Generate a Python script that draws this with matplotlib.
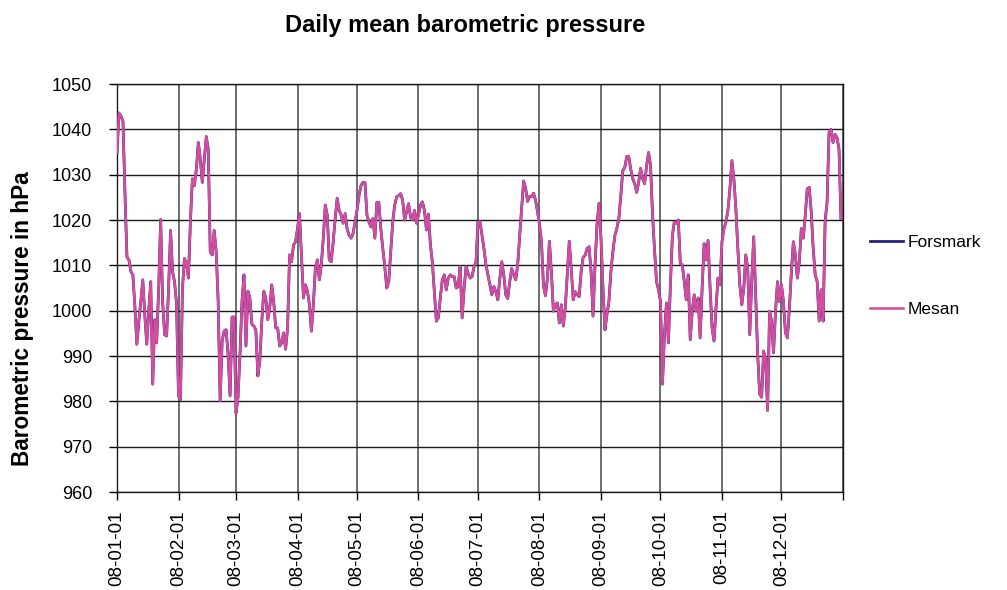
#!/usr/bin/env python3
"""Daily mean barometric pressure 2008, Forsmark vs Mesan."""
from __future__ import annotations

import matplotlib
matplotlib.use("Agg")
import matplotlib.pyplot as plt
import pandas as pd

plt.rcParams["font.family"] = ["Liberation Sans", "DejaVu Sans"]

# Mesan daily means (hPa), 2008-01-01 onwards
mesan_jan_feb = [
    1034.9, 1043.6, 1042.9, 1041.8, 1026.0, 1011.9, 1011.2, 1008.6, 1007.9, 1001.0,
    992.6, 997.7, 1002.0, 1006.8, 999.1, 992.6, 999.9, 1006.4, 983.8, 998.0,
    992.9, 1005.0, 1020.1, 1002.0, 994.7, 994.4, 1005.0, 1017.7, 1008.6, 1006.4,
    1001.6, 981.2, 980.4, 1005.0, 1011.5, 1010.4, 1007.2, 1019.6, 1029.1, 1027.6,
    1031.2, 1037.1, 1033.4, 1028.3, 1033.4, 1038.4, 1035.6, 1013.0, 1012.3, 1017.7,
    1013.0, 1002.0, 980.1, 993.3, 995.5, 995.8, 990.4, 981.2, 998.6, 998.6,
    977.4,
]
mesan_mar_apr = [
    980.9, 990.4, 1002.0, 1007.9, 992.2, 1004.3, 1002.8, 997.0, 996.6, 995.8,
    985.6, 988.9, 997.7, 1004.3, 1002.8, 998.0, 1000.6, 1005.7, 1002.0, 996.2,
    996.2, 992.2, 992.9, 995.1, 991.5, 996.2, 1012.3, 1010.8, 1014.5, 1015.2,
    1018.1, 1021.4, 1012.3, 1002.8, 1005.7, 1004.3, 1001.4, 995.5, 1001.4, 1009.4,
    1011.2, 1006.8, 1010.1, 1016.0, 1023.3, 1021.1, 1011.2, 1010.8, 1015.2, 1020.3,
    1024.8, 1022.1, 1021.1, 1019.3, 1021.4, 1018.1, 1016.6, 1016.0, 1017.0, 1019.6,
    1022.1,
]
mesan_may_jun = [
    1025.4, 1027.6, 1028.3, 1028.3, 1021.1, 1019.6, 1018.5, 1020.3, 1016.0, 1023.9,
    1023.9, 1018.1, 1013.7, 1009.7, 1005.0, 1006.4, 1013.0, 1019.6, 1023.3, 1025.1,
    1025.4, 1025.8, 1024.4, 1020.0, 1021.8, 1023.6, 1020.6, 1020.0, 1022.1, 1019.3,
    1021.1, 1023.3, 1024.0, 1022.1, 1017.8, 1021.3, 1014.6, 1010.6, 1004.0, 997.7,
    998.4, 1002.8, 1006.8, 1007.9, 1004.6, 1007.2, 1007.9, 1007.5, 1007.5, 1005.0,
    1005.3, 1009.7, 998.4, 1005.0, 1009.7, 1008.2, 1007.2, 1007.5, 1009.7, 1010.8,
    1019.6,
]
mesan_jul_aug = [
    1019.6, 1016.6, 1013.7, 1010.1, 1007.9, 1005.7, 1003.5, 1005.3, 1004.2, 1002.4,
    1007.1, 1010.8, 1007.9, 1003.5, 1002.7, 1006.4, 1009.3, 1007.9, 1006.8, 1010.1,
    1016.5, 1022.6, 1028.6, 1027.0, 1024.1, 1025.2, 1025.2, 1025.9, 1024.4, 1021.9,
    1019.0, 1015.3, 1005.5, 1003.3, 1007.1, 1015.3, 1008.6, 999.9, 1001.3, 1001.7,
    997.3, 1001.3, 996.6, 1000.6, 1007.9, 1015.3, 1009.3, 1002.4, 1004.2, 1003.5,
    1003.1, 1008.6, 1011.8, 1012.2, 1013.7, 1014.1, 1008.6, 998.8, 1010.1, 1019.0,
    1023.7,
]
mesan_sep_oct = [
    1016.0, 1005.1, 995.8, 999.1, 1002.0, 1008.6, 1013.0, 1016.6, 1018.1, 1020.3,
    1025.4, 1030.9, 1031.6, 1034.0, 1034.0, 1031.2, 1029.1, 1028.0, 1026.1, 1028.3,
    1031.4, 1029.1, 1028.0, 1032.0, 1034.9, 1032.0, 1021.1, 1013.5, 1006.4, 1004.6,
    1002.0, 983.8, 994.7, 1001.7, 992.9, 1005.7, 1016.6, 1019.6, 1019.3, 1020.0,
    1010.4, 1010.1, 1006.4, 1002.4, 1007.9, 993.6, 999.9, 1003.5, 999.9, 1002.8,
    994.0, 1005.0, 1014.8, 1011.2, 1015.5, 1005.0, 996.2, 993.3, 1000.6, 1007.2,
    1005.7,
]
mesan_nov_dec = [
    1015.2, 1018.1, 1019.6, 1022.1, 1026.9, 1033.1, 1029.1, 1022.5, 1013.7, 1005.7,
    1001.3, 1004.9, 1012.3, 1009.3, 994.7, 1006.4, 1016.3, 1003.5, 990.4, 981.6,
    980.9, 991.1, 989.2, 978.0, 999.9, 997.7, 990.7, 999.9, 1006.4, 1002.0,
    1005.7, 1002.0, 995.1, 994.0, 1000.6, 1008.6, 1015.2, 1012.3, 1007.2, 1010.8,
    1018.1, 1016.0, 1021.1, 1026.9, 1027.2, 1021.8, 1013.7, 1007.9, 1006.4, 997.7,
    1004.6, 997.7, 1019.6, 1024.0, 1039.3, 1040.0, 1037.1, 1038.9, 1038.2, 1035.6,
    1020.3,
]
mesan = (mesan_jan_feb + mesan_mar_apr + mesan_may_jun
         + mesan_jul_aug + mesan_sep_oct + mesan_nov_dec)
# Forsmark sits right under Mesan; the two can't be told apart at this scale
forsmark = list(mesan)

series_names = ["Forsmark", "Mesan"]
y_ticks = list(range(960, 1051, 10))
month_ticks = pd.date_range("2008-01-01", "2009-01-01", freq="MS")

NAVY = "#24217a"
PINK = "#d34c9f"


def main() -> None:
    days = pd.date_range("2008-01-01", periods=len(mesan), freq="D")

    fig = plt.figure(figsize=(10.07, 5.90), dpi=100)
    ax = fig.add_axes([0.1162, 0.1661, 0.7209, 0.6915])

    ax.plot(days, forsmark, color=NAVY, lw=2.0, label=series_names[0], zorder=3)
    ax.plot(days, mesan, color=PINK, lw=1.8, label=series_names[1], zorder=4)

    ax.set_xlim(month_ticks[0], month_ticks[-1])
    ax.set_ylim(y_ticks[0], y_ticks[-1])
    ax.set_yticks(y_ticks)
    ax.set_xticks(month_ticks)
    ax.set_xticklabels([d.strftime("%y-%m-%d") for d in month_ticks[:-1]] + [""],
                       rotation=90)
    ax.grid(axis="y", color="#1a1a1a", lw=1.0)
    ax.grid(axis="x", color="#555555", lw=1.2)
    ax.set_axisbelow(True)
    for s in ax.spines.values():
        s.set_color("#1a1a1a")
        s.set_linewidth(1.0)
    ax.tick_params(axis="y", length=6, width=1, pad=12, labelsize=13)
    ax.tick_params(axis="x", length=6, width=1, pad=7, labelsize=13.5)

    fig.text(0.462, 0.957, "Daily mean barometric pressure", ha="center",
             va="center", fontsize=17, fontweight="bold")
    fig.text(0.022, 0.46, "Barometric pressure in hPa", rotation=90,
             ha="center", va="center", fontsize=16.3, fontweight="bold")

    fig.legend(loc="center left", bbox_to_anchor=(0.848, 0.532), frameon=False,
               fontsize=12.5, handlelength=1.9, handletextpad=0.3, labelspacing=3.0)

    fig.savefig("out.png", dpi=100)
    plt.close(fig)


if __name__ == "__main__":
    main()
